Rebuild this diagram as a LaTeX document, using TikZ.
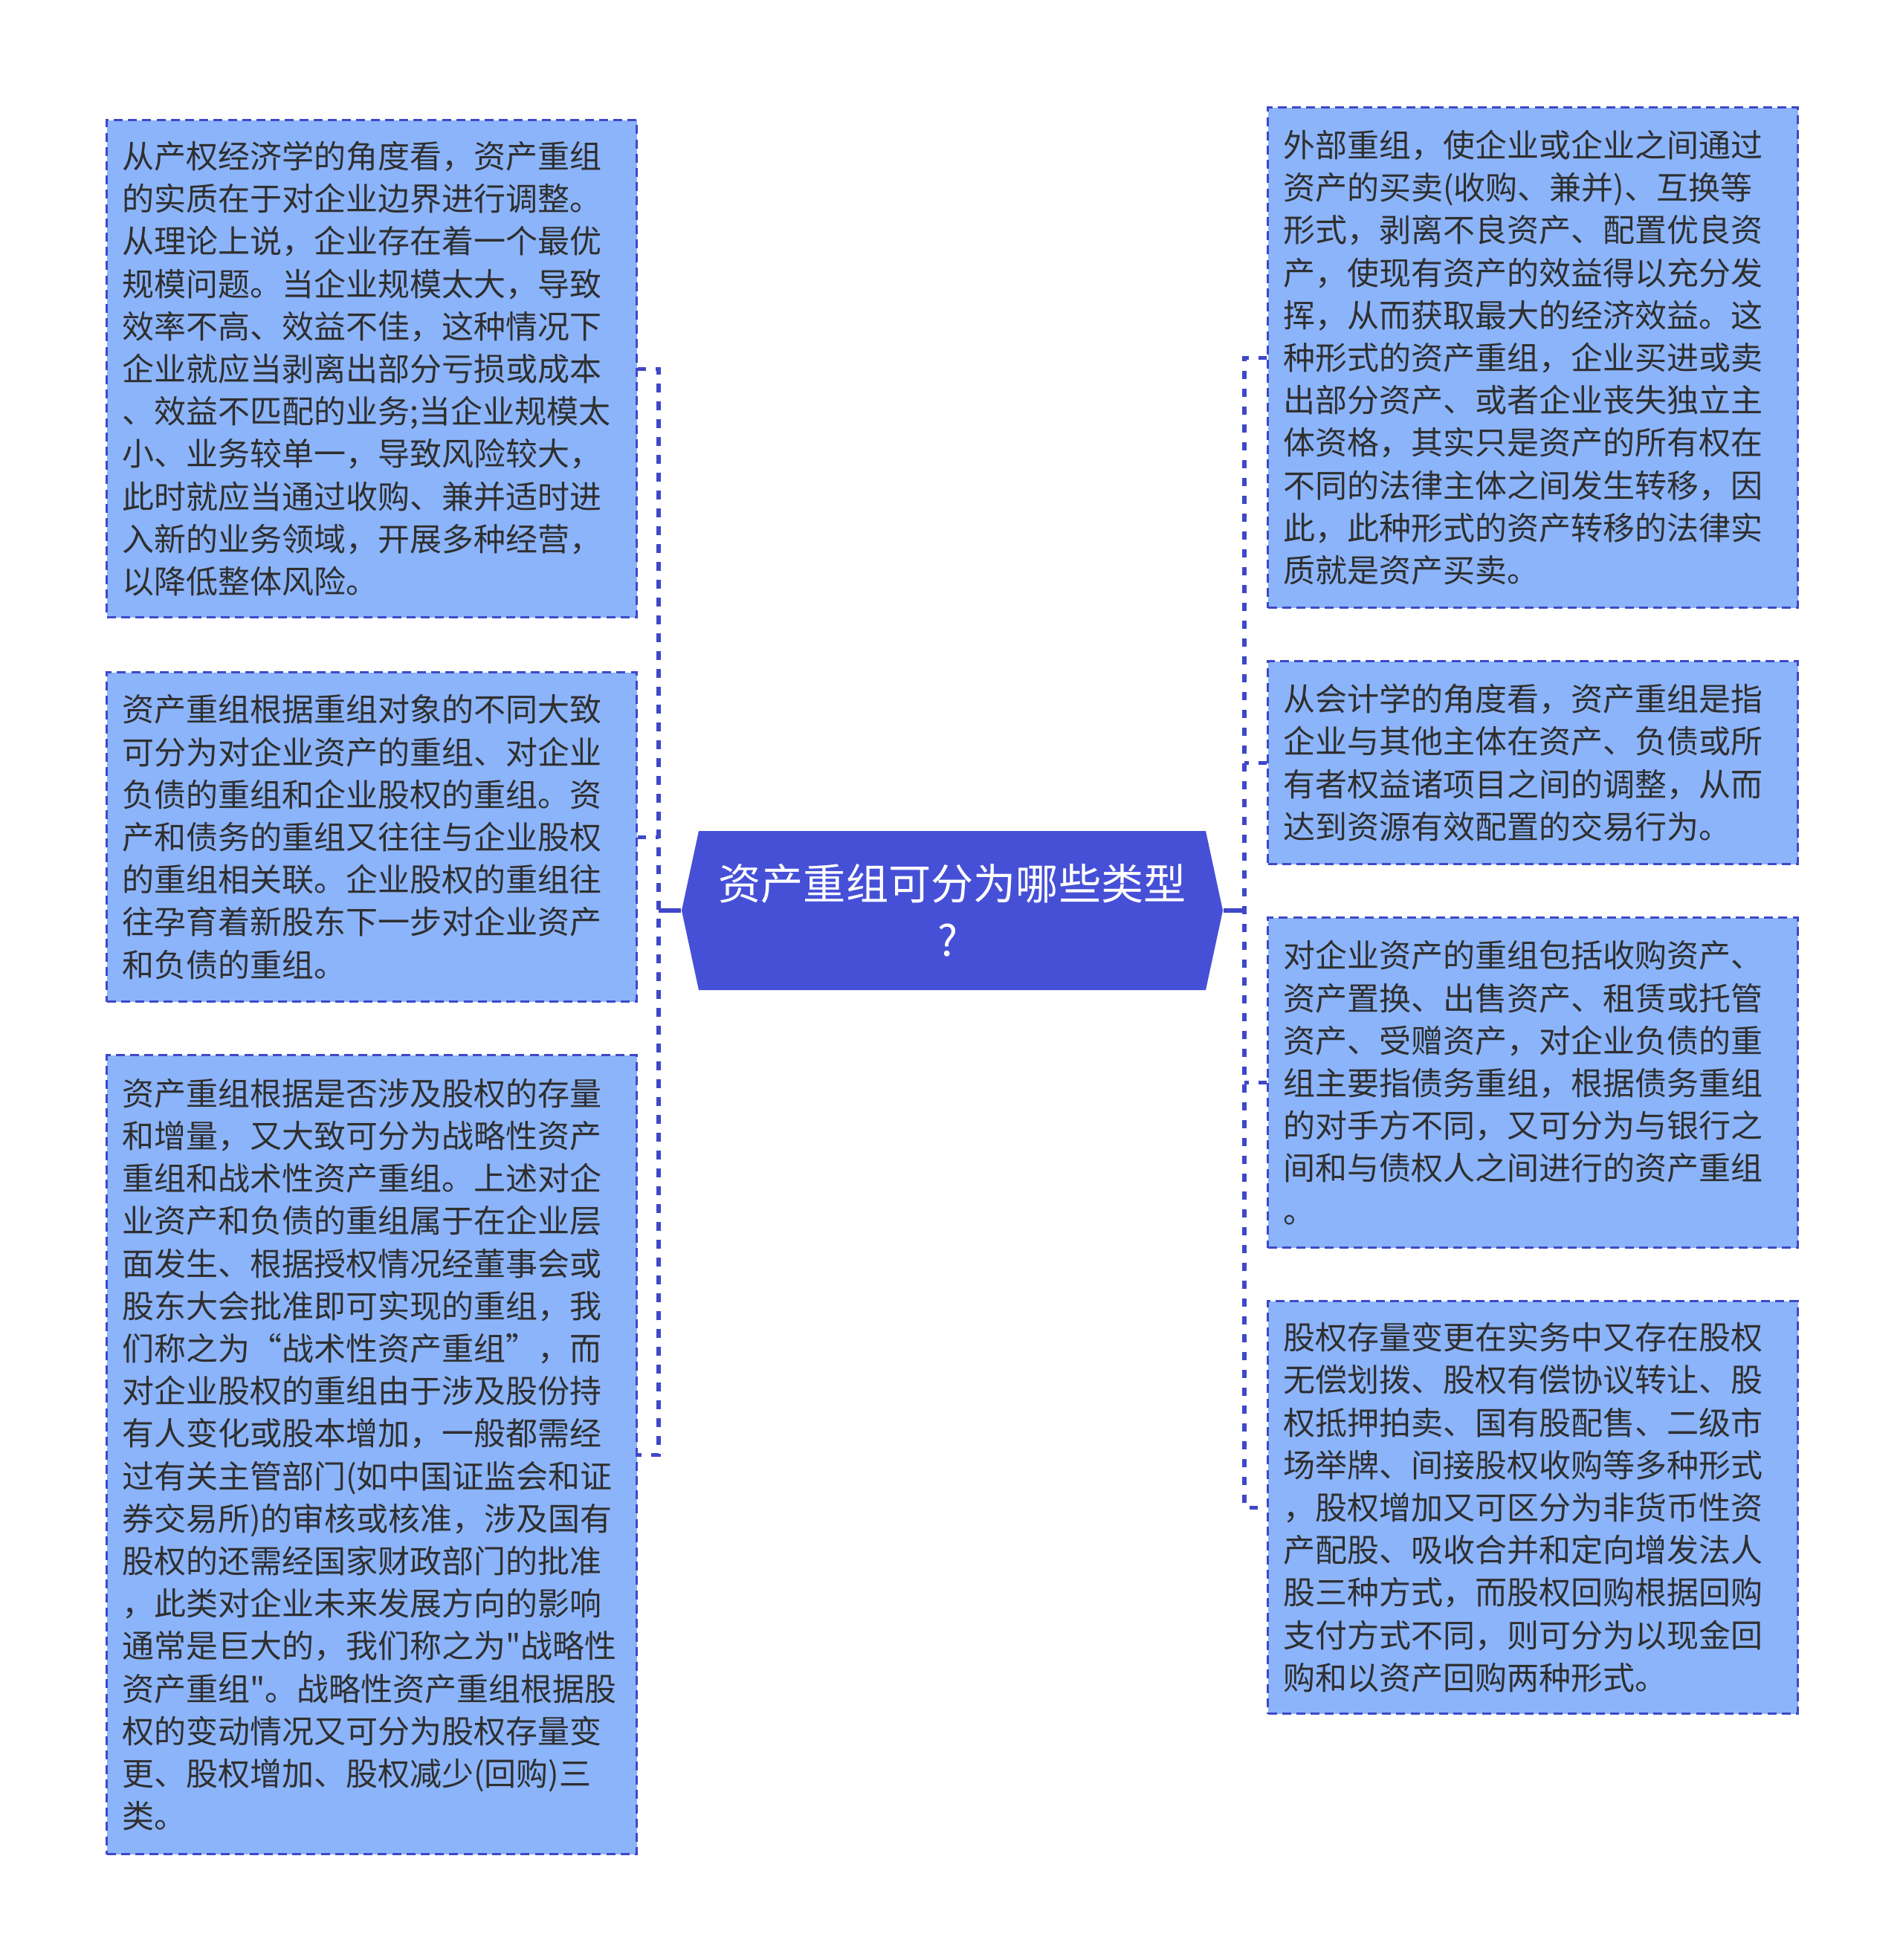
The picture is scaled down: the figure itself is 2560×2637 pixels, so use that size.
\documentclass[tikz,border=0pt]{standalone}
\usepackage{fontspec}
\newfontfamily\cjk{Noto Sans CJK SC}
\definecolor{boxfill}{HTML}{8CB4FA}
\definecolor{boxline}{HTML}{3E48C8}
\definecolor{hubfill}{HTML}{4650D6}
\definecolor{txt}{HTML}{2F2F2F}
\tikzset{
  box/.style={draw=boxline, fill=boxfill, line width=0.8pt, dash pattern=on 3pt off 1.8pt,
    anchor=north west, minimum width=178.25pt, text width=168pt, inner xsep=5pt, inner ysep=2pt,
    align=left, text=txt, font={\cjk\fontsize{10.75pt}{14.3pt}\selectfont}},
  link/.style={draw=boxline, line width=1.3pt},
  dlink/.style={link, dash pattern=on 2.8pt off 3.2pt}
}
\begin{document}
\begin{tikzpicture}[x=0.25pt,y=-0.25pt]
\useasboundingbox[fill=white] (0,0) rectangle (2560,2637);

% central hub
\fill[hubfill] (917,1225) -- (940,1118) -- (1622,1118) -- (1645,1225) -- (1622,1332) -- (940,1332) -- cycle;
\node[minimum width=182pt, minimum height=53.5pt, inner sep=0pt, align=center, text=white,
  font={\cjk\fontsize{14.3pt}{19pt}\selectfont}] (c) at (1281,1225) {资产重组可分为哪些类型\\?\hspace*{3pt}};

% left boxes
\node[box, minimum height=167.25pt] (L1) at (142,160) {从产权经济学的角度看，资产重组\\的实质在于对企业边界进行调整。\\从理论上说，企业存在着一个最优\\规模问题。当企业规模太大，导致\\效率不高、效益不佳，这种情况下\\企业就应当剥离出部分亏损或成本\\、效益不匹配的业务;当企业规模太\\小、业务较单一，导致风险较大，\\此时就应当通过收购、兼并适时进\\入新的业务领域，开展多种经营，\\以降低整体风险。};
\node[box, minimum height=110.75pt] (L2) at (142,903) {资产重组根据重组对象的不同大致\\可分为对企业资产的重组、对企业\\负债的重组和企业股权的重组。资\\产和债务的重组又往往与企业股权\\的重组相关联。企业股权的重组往\\往孕育着新股东下一步对企业资产\\和负债的重组。};
\node[box, minimum height=268.75pt] (L3) at (142,1418) {资产重组根据是否涉及股权的存量\\和增量，又大致可分为战略性资产\\重组和战术性资产重组。上述对企\\业资产和负债的重组属于在企业层\\面发生、根据授权情况经董事会或\\股东大会批准即可实现的重组，我\\们称之为“战术性资产重组”，而\\对企业股权的重组由于涉及股份持\\有人变化或股本增加，一般都需经\\过有关主管部门(如中国证监会和证\\券交易所)的审核或核准，涉及国有\\股权的还需经国家财政部门的批准\\，此类对企业未来发展方向的影响\\通常是巨大的，我们称之为"战略性\\资产重组"。战略性资产重组根据股\\权的变动情况又可分为股权存量变\\更、股权增加、股权减少(回购)三\\类。};

% right boxes
\node[box, minimum height=168.25pt] (R1) at (1704,143) {外部重组，使企业或企业之间通过\\资产的买卖(收购、兼并)、互换等\\形式，剥离不良资产、配置优良资\\产，使现有资产的效益得以充分发\\挥，从而获取最大的经济效益。这\\种形式的资产重组，企业买进或卖\\出部分资产、或者企业丧失独立主\\体资格，其实只是资产的所有权在\\不同的法律主体之间发生转移，因\\此，此种形式的资产转移的法律实\\质就是资产买卖。};
\node[box, minimum height=68.25pt] (R2) at (1704,888) {从会计学的角度看，资产重组是指\\企业与其他主体在资产、负债或所\\有者权益诸项目之间的调整，从而\\达到资源有效配置的交易行为。};
\node[box, minimum height=111pt] (R3) at (1704,1233) {对企业资产的重组包括收购资产、\\资产置换、出售资产、租赁或托管\\资产、受赠资产，对企业负债的重\\组主要指债务重组，根据债务重组\\的对手方不同，又可分为与银行之\\间和与债权人之间进行的资产重组\\。};
\node[box, minimum height=138.75pt] (R4) at (1704,1749) {股权存量变更在实务中又存在股权\\无偿划拨、股权有偿协议转让、股\\权抵押拍卖、国有股配售、二级市\\场举牌、间接股权收购等多种形式\\，股权增加又可区分为非货币性资\\产配股、吸收合并和定向增发法人\\股三种方式，而股权回购根据回购\\支付方式不同，则可分为以现金回\\购和以资产回购两种形式。};

% connectors
\coordinate (lj) at (886,1225);
\coordinate (rj) at (1674,1225);
\draw[link] (c.west) -- (lj);
\draw[dlink] (L1.east) -- (L1.east -| lj) -- (L3.east -| lj) -- (L3.east);
\draw[dlink] (L2.east) -- (L2.east -| lj);
\draw[link] (c.east) -- (rj);
\draw[dlink] (R1.west) -- (R1.west -| rj) -- (R4.west -| rj) -- (R4.west);
\draw[dlink] (R2.west) -- (R2.west -| rj);
\draw[dlink] (R3.west) -- (R3.west -| rj);
\end{tikzpicture}
\end{document}
